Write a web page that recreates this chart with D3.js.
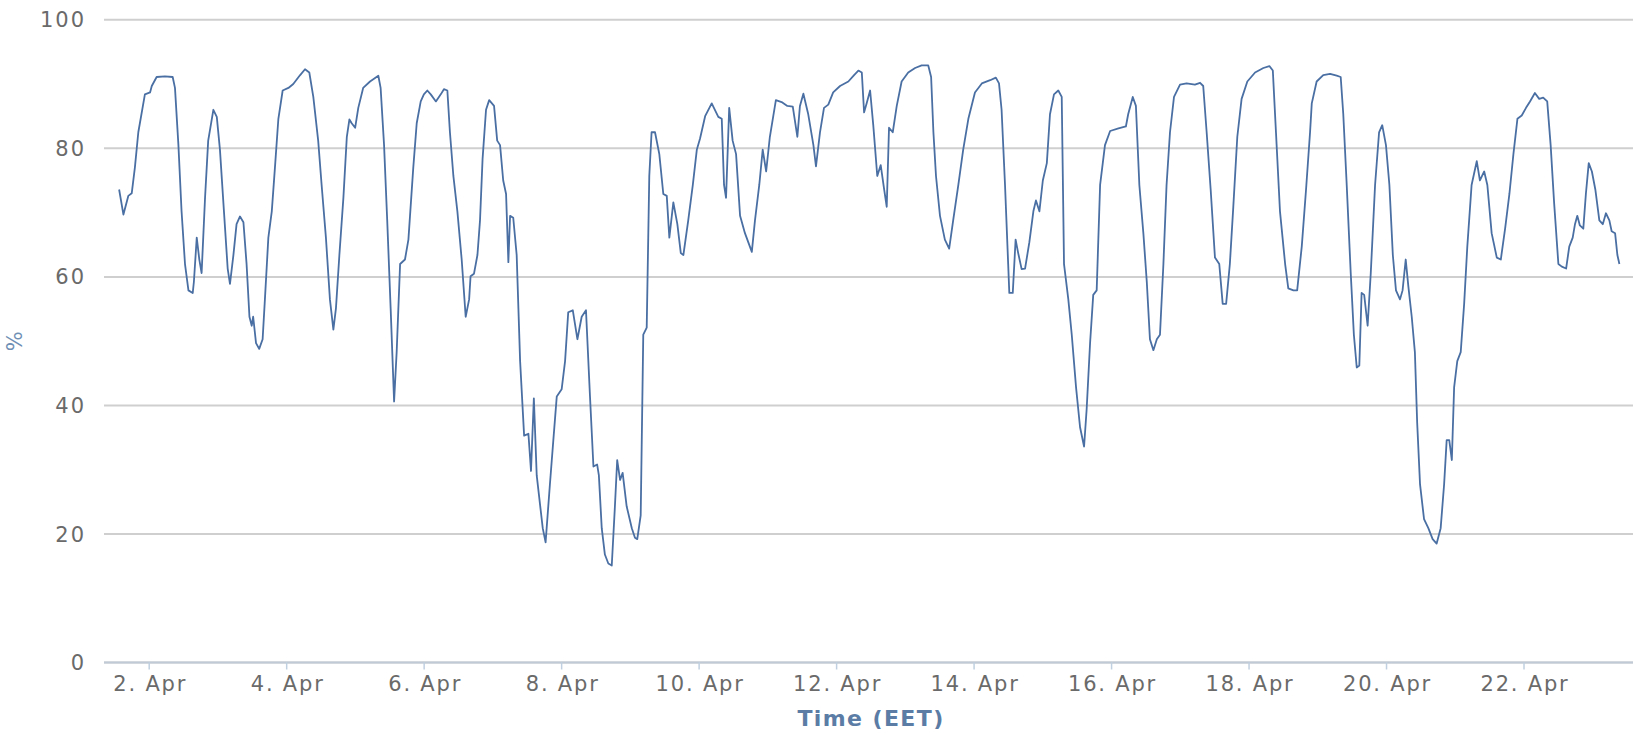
<!DOCTYPE html>
<html><head><meta charset="utf-8">
<script src="https://cdn.jsdelivr.net/npm/d3@7"></script>
<style>html,body{margin:0;padding:0;background:#fff;} svg{display:block;}</style>
</head><body>
<svg id="chart" width="1633" height="735"></svg>
<script>
// Relative humidity (%), time in hours since 1 Apr 00:00 (EET)
const yTicks = [0, 20, 40, 60, 80, 100];
const xTickDays = [2, 4, 6, 8, 10, 12, 14, 16, 18, 20, 22];
const monthLabel = "Apr";
const xTitle = "Time (EET)";
const yTitle = "%";

const hours = [
13.5,15.0,16.7,17.9,19.0,20.2,22.5,24.3,24.9,26.6,29.5,32.2,33.0,34.2,35.3,36.5,37.7,39.2,39.6,40.6,
41.5,42.3,43.5,44.6,46.4,47.6,48.7,50.1,51.4,52.2,53.4,54.5,55.7,56.9,58.0,59.0,59.8,60.3,61.3,62.4,
63.6,64.4,65.6,66.8,67.9,69.1,70.6,72.6,74.3,76.7,78.4,79.9,81.3,83.0,84.2,85.7,87.1,88.3,89.2,90.4,
91.8,93.0,93.9,94.7,95.9,97.0,98.7,101.1,104.0,104.8,106.0,107.1,108.3,109.5,110.4,111.6,113.3,
114.5,116.2,117.4,118.8,119.9,121.1,122.3,124.1,125.8,126.9,128.1,129.0,130.2,131.6,133.1,134.5,135.7,136.2,137.4,138.6,
139.5,140.4,141.6,142.7,144.4,145.5,146.5,147.6,148.6,149.4,150.0,151.1,152.3,153.5,154.9,156.4,157.3,158.3,159.3,161.4,
162.4,163.9,165.1,166.3,168.0,169.2,170.3,171.9,173.5,175.0,176.5,177.9,179.1,180.4,181.0,182.0,183.1,184.3,185.5,186.6,
187.4,188.4,189.3,190.7,192.5,193.6,194.4,195.6,196.5,197.7,198.6,199.4,200.6,202.1,203.5,204.7,205.6,207.0,208.4,209.6,
210.5,212.2,213.8,215.2,
216.3,218.1,220.4,222.7,223.9,224.7,225.4,226.5,227.7,228.9,230.3,232.0,234.4,235.5,237.0,238.2,239.4,240.7,242.8,244.8,
246.8,248.7,250.3,251.2,252.4,254.1,255.9,256.8,258.2,259.6,261.1,262.8,265.2,268.1,270.1,271.6,272.8,273.6,274.5,275.7,
276.8,278.2,279.4,280.6,281.5,282.3,283.6,285.0,286.7,289.0,291.4,293.7,296.0,297.0,297.8,298.7,300.1,301.8,303.3,304.7,
306.5,308.2,310.0,312.3,314.7,317.6,319.6,320.7,321.6,322.8,323.9,
324.3,325.5,326.5,327.4,328.6,329.8,331.3,332.7,333.6,334.8,336.0,337.4,338.5,339.9,341.4,342.6,343.4,344.9,346.1,347.6,
349.0,350.4,351.3,352.5,353.6,354.8,356.0,357.7,359.5,362.4,365.0,365.8,367.4,368.5,369.7,371.1,372.3,373.4,374.6,375.8,
376.9,378.1,379.2,380.4,381.8,383.9,386.2,389.1,390.9,392.0,393.2,394.6,396.1,397.6,398.8,400.0,401.3,402.5,403.9,405.4,
407.4,410.1,413.0,415.1,416.3,417.4,418.8,420.6,421.7,423.5,424.8,426.4,427.9,429.3,
429.9,431.6,433.9,436.3,438.6,440.0,440.9,442.1,443.5,444.6,445.6,446.5,447.3,448.2,449.4,450.5,452.0,453.4,454.5,455.8,
457.0,458.2,459.3,460.7,461.6,462.7,463.6,464.8,465.9,466.7,467.7,469.1,470.6,472.1,473.5,474.9,476.1,477.0,477.9,478.8,
479.6,480.7,481.9,483.1,484.2,485.7,487.5,488.6,490.1,491.2,492.7,494.5,495.9,497.4,498.9,500.3,501.7,503.2,504.7,506.1,
507.8,509.3,510.7,512.1,513.3,514.5,516.0,517.2,518.7,519.8,521.0,521.8,522.6,523.5,524.7,525.6,526.6,527.7,528.9,530.3,
531.5,532.6,533.8,534.6,535.8,536.6,537.3
];

const humidity = [
73.6,69.7,72.6,73,77,82.5,88.4,88.7,89.7,91.1,91.2,91.1,89.4,80.5,70.2,62,57.9,57.5,59.2,66.1,
62.7,60.6,72.3,81.2,86,84.9,79.8,70.2,61.3,58.9,63.4,68.2,69.4,68.5,62,53.8,52.4,53.8,49.7,48.8,
50.3,56.5,66.1,70.2,77,84.6,89,89.4,90,91.4,92.3,91.8,88,81.2,74.3,66.1,56.5,51.8,55.1,63.4,
72.3,81.8,84.5,83.9,83.2,86.3,89.4,90.4,91.3,89.4,80.5,68.8,55.1,40.6,48.3,62,62.7,
65.8,77,83.9,87.3,88.4,89,88.4,87.3,88.4,89.2,89,82.5,75.7,70.2,62.7,53.8,56.5,60.1,60.5,63.4,
68.8,78.4,86,87.5,86.6,81.2,80.5,75,72.9,62.3,69.5,69.2,63.4,46.9,35.3,35.6,29.8,41.1,29.1,20.9,
18.7,27.7,34.6,41.4,42.5,46.9,54.5,54.8,50.3,53.8,54.8,41.4,30.5,30.8,29.1,20.9,16.8,15.4,15.1,24.3,
31.5,28.4,29.5,24.3,20.9,19.4,19.2,22.9,51,52.1,75.7,82.5,82.5,79.1,72.9,72.6,66.1,71.6,68.2,63.7,
63.4,68.8,74.3,79.8,
81.5,85,87,84.9,84.6,74.3,72.3,86.3,81.2,79.1,69.5,66.8,63.9,68.8,74.3,79.8,76.4,81.8,87.5,87.2,
86.6,86.5,81.8,86.6,88.5,85.3,80.5,77.2,82.5,86.3,86.8,88.7,89.7,90.4,91.4,92.1,91.8,85.6,87,89,
83.6,75.7,77.4,73.6,70.9,83.2,82.5,86.6,90.4,91.8,92.5,92.9,92.9,91.1,82.5,75.7,69.5,65.8,64.4,68.8,
74.3,79.8,84.6,88.7,90.1,90.6,91,90.1,86,74.3,62,
57.5,57.5,65.8,63.7,61.2,61.3,65.4,70.2,71.9,70.2,75,77.7,85.3,88.4,89,88,62,56.5,51,42.8,
36.6,33.6,39.4,49.7,57.2,57.9,74.3,80.5,82.7,83.1,83.4,85.3,88,86.6,74.3,66.8,59.2,50.3,48.6,50.3,
51,62,74.3,82.5,88,89.9,90.1,89.9,90.2,89.7,82.5,73.6,63,62,55.8,55.8,62,70.9,81.8,87.7,
90.4,91.8,92.5,92.8,92.1,82.5,70.2,62,58.2,57.9,57.9,64.7,73.6,82.5,
87,90.4,91.4,91.6,91.3,91.1,85.3,74.3,60.6,51,45.9,46.2,57.5,57.2,52.4,60.6,74.3,82.5,83.6,80.5,
74.3,63.4,57.9,56.5,57.9,62.7,58.6,53.8,48.3,37.3,27.7,22.3,20.9,19.2,18.5,20.9,27.7,34.6,34.6,31.5,
42.8,46.9,48.3,55.8,64.7,74.3,78,75,76.4,74.3,66.8,63,62.7,67.5,72.9,79.1,84.6,85.1,86.3,87.3,
88.6,87.7,87.9,87.3,80.5,71.6,62,61.6,61.3,64.7,66.1,68.2,69.5,68,67.5,72.9,77.7,76.4,73.6,68.8,
68.2,69.9,68.8,67.1,66.8,63.4,62
];

const start = Date.UTC(2014, 3, 1);
const toDate = h => new Date(start + h * 3600e3);
const data = hours.map((h, i) => ({ t: toDate(h), v: humidity[i] }));

const W = 1633, H = 735;
const plot = { left: 104, right: 1636, top: 19.8, bottom: 662.5 };

const x = d3.scaleUtc()
  .domain([toDate(8.22), toDate(543.1)])
  .range([plot.left, plot.right]);
const y = d3.scaleLinear().domain([0, 100]).range([plot.bottom, plot.top]);

const svg = d3.select("#chart");
svg.append("rect").attr("width", W).attr("height", H).attr("fill", "#fff");

const font = "'DejaVu Sans', Verdana, sans-serif";

// grid lines
svg.append("g").selectAll("line").data(yTicks).join("line")
  .attr("x1", plot.left).attr("x2", W)
  .attr("y1", d => y(d)).attr("y2", d => y(d))
  .attr("stroke", "#cfcfcf").attr("stroke-width", 2);

// y labels
svg.append("g").selectAll("text").data(yTicks).join("text")
  .attr("x", 86).attr("y", d => y(d)).attr("dy", "0.36em")
  .attr("text-anchor", "end")
  .attr("font-family", font).attr("font-size", 21).attr("fill", "#6a6a6a")
  .attr("letter-spacing", 2)
  .text(d => d);

// x axis line
svg.append("line")
  .attr("x1", plot.left).attr("x2", W)
  .attr("y1", y(0)).attr("y2", y(0))
  .attr("stroke", "#c0cad6").attr("stroke-width", 2);

const tickDates = xTickDays.map(d => new Date(Date.UTC(2014, 3, d)));
svg.append("g").selectAll("line").data(tickDates).join("line")
  .attr("x1", d => x(d)).attr("x2", d => x(d))
  .attr("y1", y(0)).attr("y2", y(0) + 7)
  .attr("stroke", "#c0d0e0").attr("stroke-width", 1.5);

svg.append("g").selectAll("text").data(tickDates).join("text")
  .attr("x", d => x(d) + 1).attr("y", 691)
  .attr("text-anchor", "middle")
  .attr("font-family", font).attr("font-size", 21).attr("fill", "#6a6a6a")
  .attr("letter-spacing", 1.8)
  .text(d => `${d.getUTCDate()}. ${monthLabel}`);

// axis titles
svg.append("text")
  .attr("x", (plot.left + plot.right) / 2 + 1).attr("y", 726)
  .attr("text-anchor", "middle")
  .attr("font-family", font).attr("font-size", 22).attr("font-weight", "bold")
  .attr("letter-spacing", 1.4)
  .attr("fill", "#5a7ca5")
  .text(xTitle);

svg.append("text")
  .attr("transform", `translate(22, ${(plot.top + plot.bottom) / 2}) rotate(-90)`)
  .attr("text-anchor", "middle")
  .attr("font-family", font).attr("font-size", 21)
  .attr("fill", "#6f8fb5")
  .text(yTitle);

// line
const line = d3.line().x(d => x(d.t)).y(d => y(d.v)).curve(d3.curveLinear);
svg.append("path").datum(data)
  .attr("d", line)
  .attr("fill", "none")
  .attr("stroke", "#4a6fa3")
  .attr("stroke-width", 1.8)
  .attr("stroke-linejoin", "round");
</script>
</body></html>
